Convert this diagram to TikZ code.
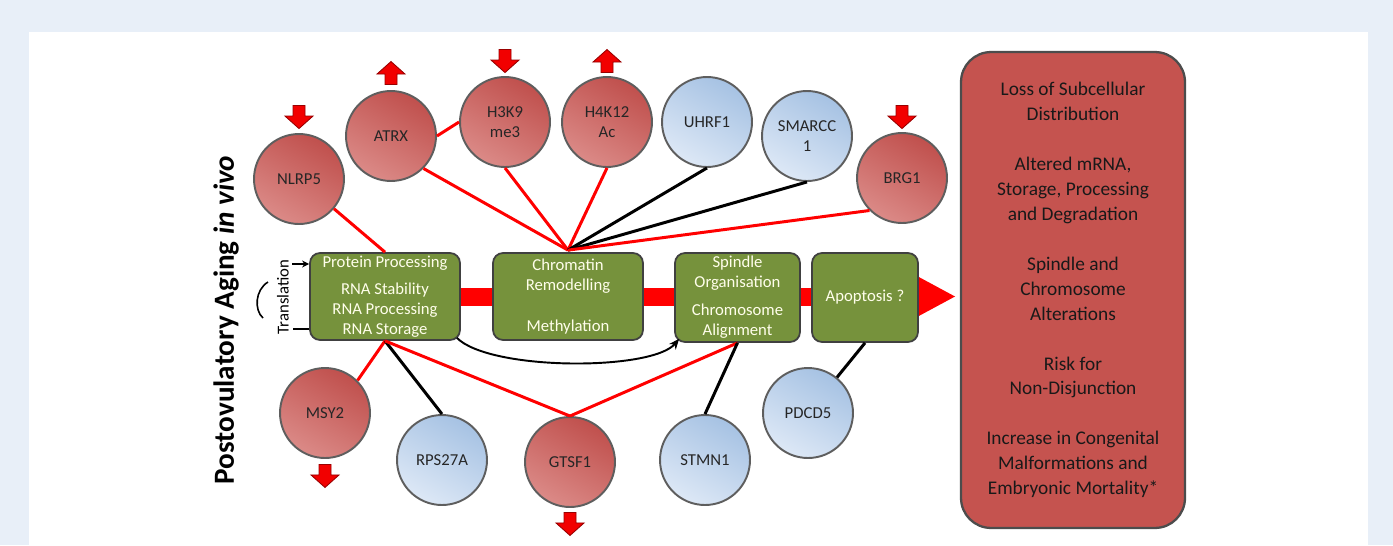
\documentclass[tikz,border=0pt]{standalone}
\usepackage{fontspec}
\setmainfont{Carlito}
\usetikzlibrary{arrows.meta,backgrounds}

\definecolor{bgblue}{HTML}{E8EFF8}
\definecolor{ballred}{HTML}{C0504D}
\definecolor{ballredlight}{HTML}{DB8A87}
\definecolor{ballblue}{HTML}{A6C2E3}
\definecolor{ballbluelight}{HTML}{DDE8F6}
\definecolor{boxgreen}{HTML}{76923C}
\definecolor{outcomered}{HTML}{C5534F}
\definecolor{rimgray}{HTML}{5E5E5E}
\definecolor{markred}{HTML}{F20000}

\tikzset{
	ball/.style={circle, minimum size=1.8cm, inner sep=0pt, draw=rimgray, line width=1.1pt,
		align=center, text=black!85, font=\fontsize{9.5}{11.4}\selectfont},
	redball/.style={ball, top color=ballred, middle color=ballred, bottom color=ballredlight, shading angle=-30},
	blueball/.style={ball, top color=ballblue, middle color=ballblue, bottom color=ballbluelight, shading angle=-30},
	stage/.style={draw=black!75, line width=1pt, fill=boxgreen, rounded corners=0.2cm, inner sep=0pt,
		align=center, text=white!92!yellow, font=\fontsize{9.5}{11.4}\selectfont},
	outcome/.style={draw=black!70, line width=1.3pt, fill=outcomered, rounded corners=0.6cm,
		minimum width=4.48cm, minimum height=9.52cm, align=center, text=black!90,
		font=\fontsize{11}{14.2}\selectfont},
	redlink/.style={red, line width=1.7pt},
	blacklink/.style={black, line width=1.7pt},
	band/.style={red, line width=0.36cm, -{Triangle[length=0.78cm,width=0.76cm]}, shorten >=0.08cm},
	markfill/.style={fill=markred, draw=red!60!black, line width=0.5pt},
	downmark/.pic={\draw[markfill] (-6,-11.5) -- (6,-11.5) -- (6,-1) -- (14,-1) -- (0,11.5) -- (-14,-1) -- (-6,-1) -- cycle;},
	upmark/.pic={\draw[markfill] (-6,11.5) -- (6,11.5) -- (6,1) -- (14,1) -- (0,-11.5) -- (-14,1) -- (-6,1) -- cycle;}
}

\begin{document}
\begin{tikzpicture}[x=0.02cm, y=-0.02cm]
	\useasboundingbox (0,0) rectangle (1393,545);

	% process boxes
	\node[stage, minimum width=3cm, minimum height=1.74cm] (prot) at (385,296.5)
		{Protein Processing\\[4pt]RNA Stability\\RNA Processing\\RNA Storage};
	\node[stage, minimum width=3cm, minimum height=1.74cm] (chrom) at (568,296.5)
		{Chromatin\\Remodelling\\[12pt]Methylation};
	\node[stage, minimum width=2.5cm, minimum height=1.78cm] (spin) at (737.5,297.5)
		{Spindle\\Organisation\\[4.5pt]Chromosome\\Alignment};
	\node[stage, minimum width=2.12cm, minimum height=1.78cm] (apop) at (865,297.5) {Apoptosis ?};
	\node[outcome] (result) at (1073,290)
		{Loss of Subcellular\\Distribution\\[14.2pt]Altered mRNA,\\Storage, Processing\\and Degradation\\[14.2pt]%
		Spindle and\\Chromosome\\Alterations\\[14.2pt]Risk for\\Non-Disjunction\\[14.2pt]%
		Increase in Congenital\\Malformations and\\Embryonic Mortality*};

	% factors
	\node[redball] (nlrp) at (299,179) {NLRP5};
	\node[redball] (atrx) at (391,136) {ATRX};
	\node[redball] (h3k) at (505,122) {H3K9\\me3};
	\node[redball] (h4k) at (607,122) {H4K12\\Ac};
	\node[blueball] (uhrf) at (707,122) {UHRF1};
	\node[blueball] (smarcc) at (807,136) {SMARCC\\1};
	\node[redball] (brg) at (902,178) {BRG1};
	\node[redball] (msy) at (325,413) {MSY2};
	\node[blueball] (rps) at (442,460) {RPS27A};
	\node[redball] (gtsf) at (570,462) {GTSF1};
	\node[blueball] (stmn) at (705,460) {STMN1};
	\node[blueball] (pdcd) at (808,413) {PDCD5};

	% up / down marks
	\pic at ([yshift=0.32cm]nlrp.north) {downmark};
	\pic at ([yshift=0.34cm]atrx.north) {upmark};
	\pic at ([yshift=0.3cm]h3k.north) {downmark};
	\pic at ([yshift=0.3cm]h4k.north) {upmark};
	\pic at ([yshift=0.3cm]brg.north) {downmark};
	\pic at ([yshift=-0.34cm]msy.south) {downmark};
	\pic at ([yshift=-0.32cm]gtsf.south) {downmark};

	% labels
	\node[rotate=90, font=\fontsize{16.6}{18}\selectfont\bfseries] (title) at (226,320)
		{Postovulatory Aging \textit{in vivo}};
	\node[rotate=90, font=\fontsize{9.5}{11}\selectfont] (transl) at (283,297) {Translation};
	\coordinate (trtop) at (292,264);
	\coordinate (trbot) at (293,329);
	\draw[-{Stealth[length=4pt,width=4pt]}, line width=0.8pt] (trtop) -- (trtop -| prot.west);
	\draw[line width=0.8pt] (trbot) -- (trbot -| prot.west);
	\draw[line width=0.9pt] (268,282) .. controls (255,290) and (254,310) .. (263,318);

	% connectors
	\coordinate (hub) at ([yshift=0.04cm]chrom.north);
	\draw[redlink] (prot.north) -- (nlrp);
	\draw[redlink] (atrx.east) -- (h3k.west);
	\draw[redlink] (hub) -- (atrx.south east);
	\draw[redlink] (hub) -- (h3k.south);
	\draw[redlink] (hub) -- (h4k.south);
	\draw[blacklink] (hub) -- (uhrf.south);
	\draw[blacklink] (hub) -- (smarcc.south);
	\draw[redlink] (hub) -- (brg.south west);
	\draw[redlink] (prot.south) -- (msy.north east);
	\draw[blacklink] (prot.south) -- (rps.north);
	\draw[redlink] (prot.south) -- (gtsf.north);
	\draw[redlink] (spin.south) -- (gtsf.north);
	\draw[blacklink] (spin.south) -- (stmn.north);
	\draw[blacklink] (apop.south) -- (pdcd);
	\draw[line width=1.1pt, -{Stealth[length=6pt,width=5pt]}] ([xshift=-0.08cm,yshift=0.06cm]prot.south east)
		.. controls (490,371) and (652,371) .. ([xshift=0.1cm,yshift=0.08cm]spin.south west);

	\begin{scope}[on background layer]
		\fill[bgblue] (0,0) rectangle (1393,545);
		\fill[white] (29,32) rectangle (1368,545);
		\draw[band] (prot.east) -- (prot.east -| result.west);
	\end{scope}
\end{tikzpicture}
\end{document}
